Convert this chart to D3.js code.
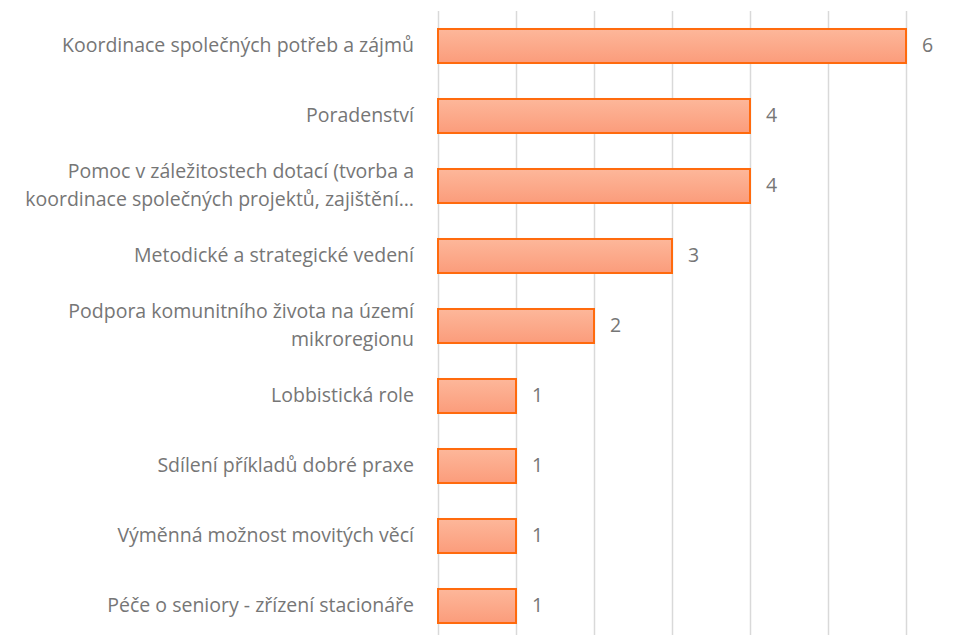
<!DOCTYPE html>
<html>
<head>
<meta charset="utf-8">
<script src="https://cdn.jsdelivr.net/npm/d3@7"></script>
<style>
  html, body { margin: 0; padding: 0; background: #fff; }
  svg { display: block; }
  text { font-family: "Open Sans", sans-serif; fill: #767676; }
</style>
</head>
<body>
<div id="chart"></div>
<script>
// Activities of the micro-region and the number of answers for each
const categories = [
  ["Koordinace společných potřeb a zájmů"],
  ["Poradenství"],
  ["Pomoc v záležitostech dotací (tvorba a", "koordinace společných projektů, zajištění…"],
  ["Metodické a strategické vedení"],
  ["Podpora komunitního života na území", "mikroregionu"],
  ["Lobbistická role"],
  ["Sdílení příkladů dobré praxe"],
  ["Výměnná možnost movitých věcí"],
  ["Péče o seniory - zřízení stacionáře"]
];
const counts = [6, 4, 4, 3, 2, 1, 1, 1, 1];
const xTicks = [0, 1, 2, 3, 4, 5, 6];

const width = 976, height = 635;
const plot = { left: 438, right: 906, top: 11, bottom: 641 };

const svg = d3.select("#chart").append("svg")
  .attr("width", width).attr("height", height);

const defs = svg.append("defs");
const grad = defs.append("linearGradient")
  .attr("id", "barFill").attr("x1", 0).attr("y1", 0).attr("x2", 0).attr("y2", 1);
grad.append("stop").attr("offset", "0%").attr("stop-color", "#FDB79A");
grad.append("stop").attr("offset", "100%").attr("stop-color", "#FB9C7B");

const x = d3.scaleLinear().domain([0, 6]).range([plot.left, plot.right]);
const y = d3.scaleBand().domain(d3.range(categories.length))
  .range([plot.top, plot.bottom]).paddingInner(0.514).paddingOuter(0.257);

// vertical gridlines
const xAxis = d3.axisBottom(x).tickValues(xTicks).tickSize(plot.bottom - plot.top).tickFormat("");
const gx = svg.append("g").attr("transform", `translate(0,${plot.top})`).call(xAxis);
gx.select(".domain").remove();
gx.selectAll(".tick line").attr("stroke", "#D9D9D9").attr("stroke-width", 1.5);

// bars
svg.append("g").selectAll("rect").data(counts).join("rect")
  .attr("x", x(0))
  .attr("y", (d, i) => y(i))
  .attr("width", d => x(d) - x(0))
  .attr("height", y.bandwidth())
  .attr("fill", "url(#barFill)")
  .attr("stroke", "#FF6A0D")
  .attr("stroke-width", 2);

// value labels
svg.append("g").selectAll("text").data(counts).join("text")
  .attr("x", d => x(d) + 16)
  .attr("y", (d, i) => y(i) + y.bandwidth() / 2)
  .attr("dy", "0.32em")
  .attr("font-size", 19.5)
  .text(d => d);

// category labels, one text element per line
const lineH = 27.5;
const labelRows = categories.flatMap((lines, i) =>
  lines.map((t, j) => ({ t, i, off: (j - (lines.length - 1) / 2) * lineH })));
svg.append("g").selectAll("text").data(labelRows).join("text")
  .attr("text-anchor", "end")
  .attr("font-size", 19.5)
  .attr("x", 414)
  .attr("y", d => y(d.i) + y.bandwidth() / 2 + d.off)
  .attr("dy", "0.3em")
  .text(d => d.t);
</script>
</body>
</html>
